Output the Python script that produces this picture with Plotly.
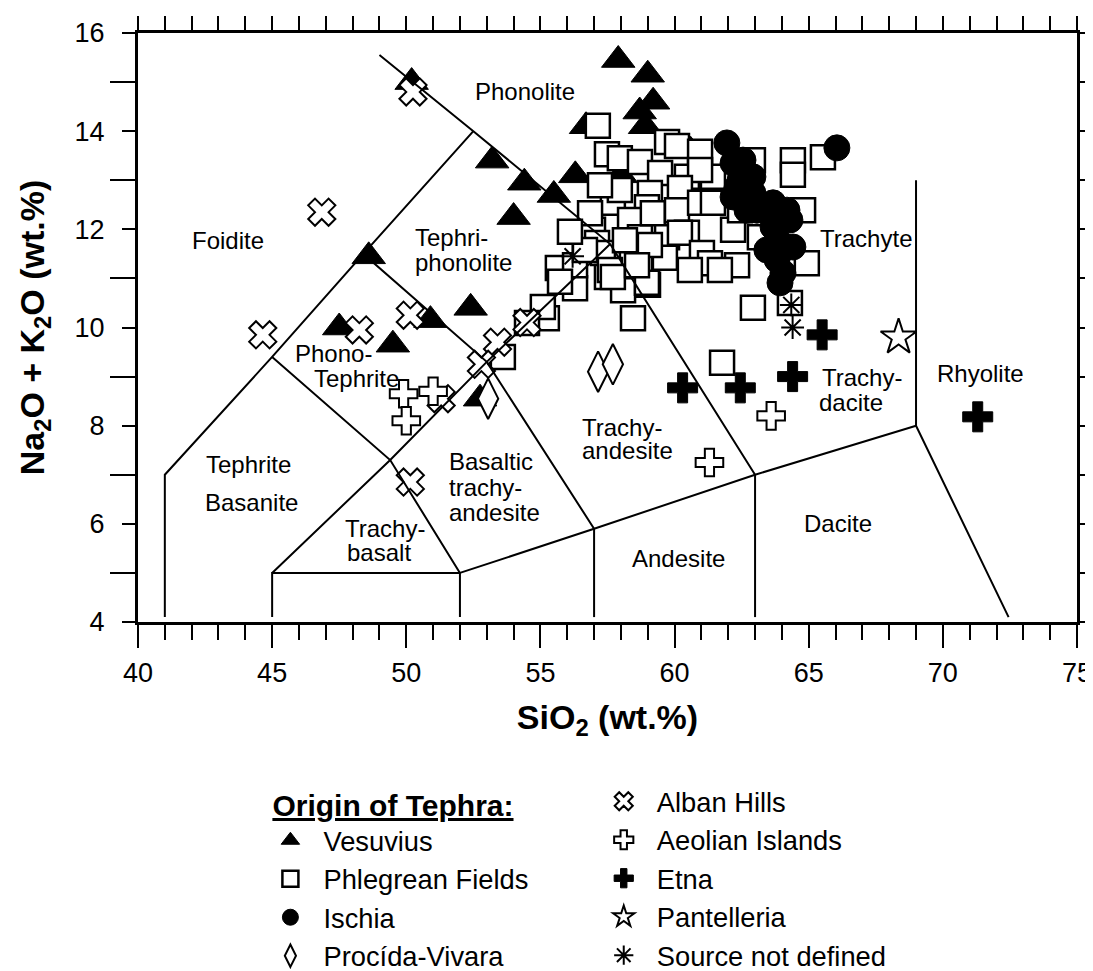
import plotly.graph_objects as go

FONT = "Liberation Sans, Arial, sans-serif"

# ---- data (SiO2, Na2O+K2O) ----
vesuvius_x = [57.9, 59.0, 59.2, 58.7, 58.9, 56.7, 58.0, 60.6, 56.3, 53.2, 54.4, 55.5, 54.0, 50.2, 48.6, 47.5, 49.5, 50.9, 52.4, 52.75]
vesuvius_y = [15.45, 15.15, 14.6, 14.4, 14.1, 14.1, 13.1, 13.6, 13.1, 13.4, 12.95, 12.7, 12.25, 15.0, 11.45, 10.0, 9.65, 10.15, 10.4, 8.55]

phlegrean_x = [57.14, 57.48, 57.96, 58.71, 59.72, 60.09, 60.95, 59.46, 60.46, 61.43, 60.95,
               57.70, 57.96, 59.08, 58.97, 58.34, 57.22, 60.20,
               56.96, 57.11, 56.85, 57.33, 57.48, 58.41, 58.71, 59.01, 57.59, 58.71, 59.19, 60.09, 60.95, 61.43,
               60.46, 59.72, 60.20, 61.02, 61.32, 62.18, 62.33, 62.44, 63.18, 59.64, 60.57, 61.69, 58.15, 59.08,
               62.92, 64.41, 64.41, 65.53, 64.79, 64.93, 64.30, 62.92, 58.45, 61.77,
               56.29, 55.65, 55.24, 55.09, 53.60, 54.50, 56.29, 55.73, 56.66, 56.10, 58.08, 58.97, 57.70, 58.60]
phlegrean_y = [14.11, 13.53, 13.45, 13.37, 13.78, 13.70, 13.58, 13.15, 13.07, 13.07, 13.21,
               12.54, 12.80, 12.74, 12.45, 12.19, 12.90, 12.84,
               11.99, 11.72, 12.33, 11.52, 11.03, 11.44, 11.84, 10.87, 11.17, 11.27, 12.33, 12.39, 12.54, 12.54,
               11.93, 11.84, 11.93, 11.52, 11.31, 11.99, 11.27, 12.39, 11.84, 11.42, 11.17, 11.17, 11.78, 11.68,
               13.41, 13.41, 13.11, 13.47, 12.39, 11.31, 10.50, 10.40, 10.19, 9.28,
               10.80, 11.21, 10.19, 10.42, 9.40, 10.09, 11.27, 10.93, 11.58, 11.95, 10.76, 10.91, 11.03, 11.27]

ischia_x = [61.95, 62.55, 62.18, 62.44, 62.92, 62.33, 62.92, 62.18, 63.18, 62.70, 63.67, 64.19, 64.30, 63.67,
            63.93, 64.41, 63.44, 63.82, 64.04, 63.93, 63.07, 66.05]
ischia_y = [13.76, 13.41, 13.35, 13.00, 13.07, 12.86, 12.74, 12.66, 12.45, 12.39, 12.54, 12.39, 12.19, 12.05,
            11.72, 11.64, 11.58, 11.38, 11.11, 10.91, 12.39, 13.66]

procida_x = [57.15, 57.7, 53.05]
procida_y = [9.1, 9.25, 8.55]

alban_x = [50.25, 46.85, 44.65, 48.25, 50.15, 54.5, 53.4, 52.8, 51.3, 50.15]
alban_y = [14.8, 12.35, 9.85, 9.95, 10.25, 10.1, 9.7, 9.25, 8.55, 6.85]

aeolian_x = [49.9, 51.0, 50.0, 63.6, 61.3]
aeolian_y = [8.65, 8.7, 8.1, 8.2, 7.25]

etna_x = [65.5, 64.4, 62.45, 60.3, 71.3]
etna_y = [9.85, 9.0, 8.77, 8.77, 8.18]

pantelleria_x = [68.35]
pantelleria_y = [9.8]

undefined_x = [56.2, 64.35, 64.4]
undefined_y = [11.45, 10.46, 10.0]

# ---- TAS classification boundaries (polylines) ----
boundaries = [
    [(41, 4.1), (41, 7), (45, 9.4), (48.4, 11.5), (52.5, 14)],
    [(49.0, 15.55), (52.5, 14), (57.6, 11.7), (63, 7)],
    [(45, 4.1), (45, 5), (52, 5), (52, 4.1)],
    [(45, 5), (49.4, 7.3), (53, 9.3), (57.6, 11.7)],
    [(45, 9.4), (49.4, 7.3), (52, 5)],
    [(48.4, 11.5), (53, 9.3), (57, 5.9)],
    [(52, 5), (57, 5.9), (63, 7), (69, 8)],
    [(57, 5.9), (57, 4.1)],
    [(63, 7), (63, 4.1)],
    [(69, 13), (69, 8), (72.45, 4.1)],
]

# ---- field names (left edge x, centre y) ----
field_text = ["Phonolite", "Foidite", "Tephri-", "phonolite", "Phono-", "Tephrite", "Tephrite", "Basanite",
              "Basaltic", "trachy-", "andesite", "Trachy-", "basalt", "Trachy-", "andesite",
              "Andesite", "Dacite", "Trachy-", "dacite", "Rhyolite", "Trachyte"]
field_x = [52.49, 41.94, 50.25, 50.25, 45.78, 46.49, 42.46, 42.42,
           51.52, 51.52, 51.52, 47.64, 47.70, 56.47, 56.47,
           58.35, 64.75, 65.42, 65.30, 69.70, 65.34]
field_y = [14.8, 11.78, 11.84, 11.33, 9.48, 8.97, 7.20, 6.44,
           7.26, 6.75, 6.24, 5.91, 5.41, 7.97, 7.50,
           5.30, 6.00, 8.99, 8.48, 9.07, 11.82]

fig = go.Figure()

bx, by = [], []
for line in boundaries:
    for (a, b) in line:
        bx.append(a)
        by.append(b)
    bx.append(None)
    by.append(None)
fig.add_trace(go.Scatter(x=bx, y=by, mode="lines", xaxis="x2",
                         line=dict(color="black", width=2), showlegend=False, hoverinfo="skip"))

PAD = "\u00a0\u2009"
series = [
    ("Vesuvius", vesuvius_x, vesuvius_y, dict(symbol="triangle-up", size=29, color="black", line=dict(color="black", width=1)), "legend"),
    ("Phlegrean Fields", phlegrean_x, phlegrean_y, dict(symbol="square", size=24, color="white", line=dict(color="black", width=2.5)), "legend"),
    ("Ischia", ischia_x, ischia_y, dict(symbol="circle", size=26, color="black", line=dict(color="black", width=1)), "legend"),
    ("Procída-Vivara", procida_x, procida_y, dict(symbol="diamond-tall", size=29, color="white", line=dict(color="black", width=2)), "legend"),
    ("Alban Hills", alban_x, alban_y, dict(symbol="x", size=24, color="white", line=dict(color="black", width=2)), "legend2"),
    ("Aeolian Islands", aeolian_x, aeolian_y, dict(symbol="cross", size=23, color="white", line=dict(color="black", width=2)), "legend2"),
    ("Etna", etna_x, etna_y, dict(symbol="cross", size=25, color="black", line=dict(color="black", width=1)), "legend2"),
    ("Pantelleria", pantelleria_x, pantelleria_y, dict(symbol="star", size=27, color="white", line=dict(color="black", width=2)), "legend2"),
    ("Source not defined", undefined_x, undefined_y, dict(symbol="asterisk-open", size=19, color="black", line=dict(color="black", width=2)), "legend2"),
]
for name, xs, ys, mk, lg in series:
    fig.add_trace(go.Scatter(x=xs, y=ys, mode="markers", name=PAD + name, marker=mk,
                             legend=lg, showlegend=True))

for t, x, y in zip(field_text, field_x, field_y):
    fig.add_annotation(x=x, y=y, text=t, showarrow=False, xanchor="left", yanchor="middle",
                       font=dict(family=FONT, size=24, color="black"))

axis_common = dict(showgrid=False, zeroline=False, showline=True, linecolor="black", linewidth=3,
                   tickcolor="black", tickwidth=2, automargin=False)

# the page body adds an 8px offset; the figure is sized so the plot lands where the reference has it
FIG_W, FIG_H = 1085, 963
LEG_TOP = 1 - 769 / FIG_H

fig.update_layout(
    width=FIG_W, height=FIG_H,
    margin=dict(l=130, r=16, t=25, b=349),
    paper_bgcolor="white", plot_bgcolor="white",
    font=dict(family=FONT, color="black"),
    xaxis=dict(range=[40, 75], tick0=40, dtick=5, ticks="outside", ticklen=23,
               minor=dict(dtick=1, ticks="outside", ticklen=15, tickwidth=2, tickcolor="black"),
               tickfont=dict(size=27), ticklabelstandoff=2,
               title=dict(text="<b>SiO<sub>2</sub> (wt.%)</b>", font=dict(size=34), standoff=18),
               **axis_common),
    xaxis2=dict(range=[40, 75], overlaying="x", side="top", tick0=40, dtick=1, ticks="outside",
                ticklen=14, showticklabels=False, **axis_common),
    yaxis=dict(range=[4, 16], tick0=4, dtick=2, ticks="outside", ticklen=13, mirror="allticks",
               minor=dict(dtick=1, ticks="outside", ticklen=25, tickwidth=2, tickcolor="black"),
               tickfont=dict(size=27), ticklabelstandoff=12,
               title=dict(text="<b>Na<sub>2</sub>O + K<sub>2</sub>O (wt.%)</b>", font=dict(size=34), standoff=20),
               **axis_common),
    legend=dict(x=0.141, y=LEG_TOP, xref="paper", yref="container", xanchor="left", yanchor="top",
                bgcolor="rgba(0,0,0,0)",
                title=dict(text="<b><u>Origin of Tephra:</u></b>", font=dict(size=30), side="top"),
                font=dict(size=27.3), itemsizing="trace"),
    legend2=dict(x=0.496, y=LEG_TOP, xref="paper", yref="container", xanchor="left", yanchor="top",
                 bgcolor="rgba(0,0,0,0)", font=dict(size=27.3), itemsizing="trace"),
)

fig.write_html("out.html")
